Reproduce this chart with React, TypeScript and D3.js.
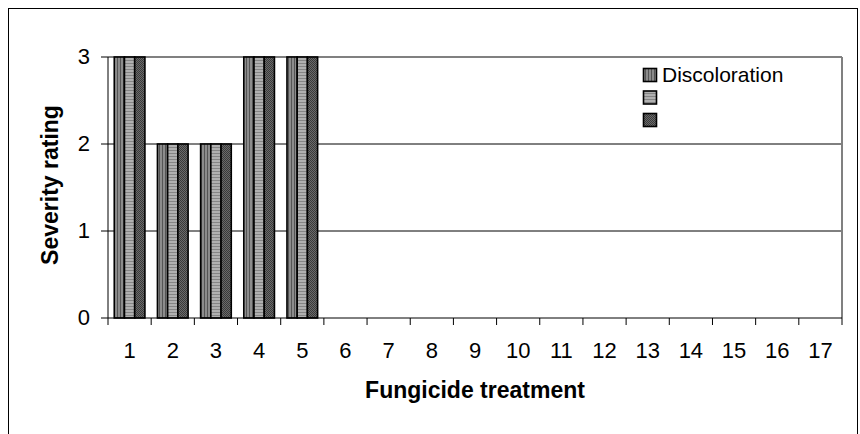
import React from "react";
import * as d3 from "d3";

const categories = ["1","2","3","4","5","6","7","8","9","10","11","12","13","14","15","16","17"];
const seriesNames = ["Discoloration", "", ""];
const series1 = [3, 2, 2, 3, 3, 0, 0, 0, 0, 0, 0, 0, 0, 0, 0, 0, 0];
const series2 = [3, 2, 2, 3, 3, 0, 0, 0, 0, 0, 0, 0, 0, 0, 0, 0, 0];
const series3 = [3, 2, 2, 3, 3, 0, 0, 0, 0, 0, 0, 0, 0, 0, 0, 0, 0];
const yTicks = [0, 1, 2, 3];

const W = 860, H = 434;
const plot = { left: 108, right: 842, top: 57, bottom: 318 };
const font = "Liberation Sans, Arial, sans-serif";

export default function App() {
  const allSeries = [series1, series2, series3];
  const x = d3.scaleBand().domain(categories).range([plot.left, plot.right]).paddingInner(0.29).paddingOuter(0.145);
  const xs = d3.scaleBand().domain(["0", "1", "2"]).range([0, x.bandwidth()]);
  const y = d3.scaleLinear().domain([0, 3]).range([plot.bottom, plot.top]);
  const fills = ["url(#p0)", "url(#p1)", "url(#p2)"];
  const step = (plot.right - plot.left) / categories.length;
  return (
    <svg width={W} height={H} style={{ position: "absolute", left: 0, top: 0, display: "block" }}>
      <defs>
        <pattern id="p0" width="3" height="3" patternUnits="userSpaceOnUse">
          <rect width="3" height="3" fill="#8c8c8c" />
          <rect width="1" height="3" fill="#555555" />
        </pattern>
        <pattern id="p1" width="3" height="3" patternUnits="userSpaceOnUse">
          <rect width="3" height="3" fill="#b0b0b0" />
          <rect width="3" height="1" fill="#858585" />
        </pattern>
        <pattern id="p2" width="2" height="2" patternUnits="userSpaceOnUse">
          <rect width="2" height="2" fill="#6a6a6a" />
          <rect width="1" height="1" fill="#3a3a3a" />
          <rect x="1" y="1" width="1" height="1" fill="#3a3a3a" />
        </pattern>
      </defs>
      <rect x={8.5} y={8.5} width={849} height={440} fill="#fff" stroke="#000" strokeWidth={1} />
      {yTicks.filter(t => t > 0 && t < 3).map(t => (
        <line key={t} x1={plot.left} x2={plot.right} y1={y(t)} y2={y(t)} stroke="#000" strokeWidth={1} />
      ))}
      <line x1={plot.left} x2={plot.right} y1={plot.top} y2={plot.top} stroke="#808080" strokeWidth={2} />
      <line x1={plot.right} x2={plot.right} y1={plot.top} y2={plot.bottom} stroke="#808080" strokeWidth={2} />
      {allSeries.map((s, si) =>
        s.map((v, ci) => v > 0 ? (
          <rect key={`${si}-${ci}`} x={(x(categories[ci]) as number) + (xs(String(si)) as number)} y={y(v)}
            width={xs.bandwidth()} height={y(0) - y(v)} fill={fills[si]} stroke="#000" strokeWidth={1.6} />
        ) : null)
      )}
      <line x1={plot.left} x2={plot.left} y1={plot.top} y2={plot.bottom} stroke="#000" strokeWidth={1} />
      <line x1={plot.left} x2={plot.right} y1={plot.bottom} y2={plot.bottom} stroke="#000" strokeWidth={1} />
      {yTicks.map(t => (
        <g key={t}>
          <line x1={plot.left - 7} x2={plot.left} y1={y(t)} y2={y(t)} stroke="#000" />
          <text x={90} y={y(t) + 6.5} textAnchor="end" fontFamily={font} fontSize={22}>{t}</text>
        </g>
      ))}
      {d3.range(categories.length + 1).map(i => (
        <line key={i} x1={plot.left + i * step} x2={plot.left + i * step} y1={plot.bottom} y2={plot.bottom + 7} stroke="#000" />
      ))}
      {categories.map(c => (
        <text key={c} x={plot.left + (categories.indexOf(c) + 0.5) * step} y={358} textAnchor="middle" fontFamily={font} fontSize={22}>{c}</text>
      ))}
      <text x={475} y={397.5} textAnchor="middle" fontFamily={font} fontSize={23} fontWeight="bold">Fungicide treatment</text>
      <text transform={`translate(58,185) rotate(-90)`} textAnchor="middle" fontFamily={font} fontSize={23} fontWeight="bold">Severity rating</text>
      {seriesNames.map((n, i) => (
        <g key={i}>
          <rect x={643.5} y={68.5 + i * 22.5} width={13} height={13} fill={fills[i]} stroke="#000" strokeWidth={1.6} />
          <text x={662} y={81.5 + i * 22.5} fontFamily={font} fontSize={21}>{n}</text>
        </g>
      ))}
    </svg>
  );
}
